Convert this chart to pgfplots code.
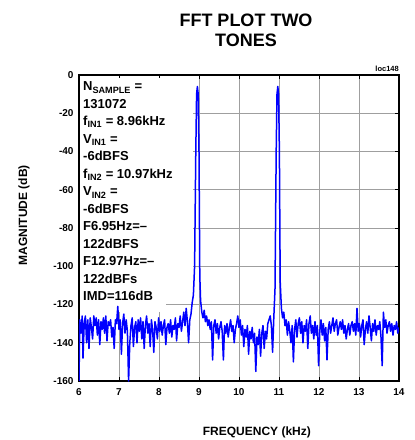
\documentclass[border=0pt]{standalone}
\usepackage{pgfplots}
\pgfplotsset{compat=1.18}
\usepackage{fontspec}
\setmainfont{Liberation Sans}
\begin{document}
\begin{tikzpicture}
\useasboundingbox (-79pt,-59pt) rectangle (336pt,381pt);
\begin{axis}[
  at={(0,0)}, anchor=south west,
  scale only axis, width=320pt, height=306pt,
  xmin=6, xmax=14, ymin=-160, ymax=0,
  xtick={6,7,...,14}, ytick={-160,-140,...,0},
  grid=major,
  grid style={gray!75, line width=0.8pt},
  axis line style={line width=1.3pt},
  tick align=inside, major tick length=4pt,
  tick style={black, line width=0.8pt},
  /pgf/number format/assume math mode=true,
  ticklabel style={font=\fontsize{10}{12}\selectfont\bfseries},
  xticklabel style={yshift=-4pt},
  yticklabel style={xshift=-2pt},
  xlabel={FREQUENCY (kHz)},
  ylabel={MAGNITUDE (dB)},
  label style={font=\fontsize{12}{14}\selectfont\bfseries},
  xlabel style={at={(axis description cs:0.556,-0.167)}, anchor=center},
  ylabel style={at={(axis description cs:-0.172,0.542)}, anchor=center, rotate=0},
  clip=true,
]
\fill[white] (axis cs:6.03,-1.5) rectangle (axis cs:8.86,-117);
\fill[white] (axis cs:6.03,-117) rectangle (axis cs:8.18,-124);
\node[anchor=north west, align=left, inner sep=0pt,
      font=\fontsize{13}{17.5}\selectfont\bfseries] at (axis cs:6.1,-3.5)
 {N\textsubscript{SAMPLE} =\\
  131072\\
  f\textsubscript{IN1} = 8.96kHz\\
  V\textsubscript{IN1} =\\
  -6dBFS\\
  f\textsubscript{IN2} = 10.97kHz\\
  V\textsubscript{IN2} =\\
  -6dBFS\\
  F6.95Hz=--\\
  122dBFS\\
  F12.97Hz=--\\
  122dBFs\\
  IMD=116dB};
\addplot[blue, line width=1.5pt, line join=round] table {
x y
6.00 -160
6.02 -128
6.05 -135
6.08 -126
6.10 -148
6.13 -130
6.16 -126
6.19 -140
6.22 -128
6.25 -143
6.28 -127
6.31 -132
6.34 -138
6.37 -126
6.40 -131
6.43 -127
6.46 -136
6.49 -128
6.52 -141
6.55 -129
6.58 -133
6.61 -127
6.64 -135
6.67 -126
6.70 -139
6.73 -129
6.76 -131
6.79 -128
6.82 -137
6.85 -132
6.88 -143
6.91 -128
6.94 -130
6.97 -121
7.00 -133
7.03 -128
7.06 -146
7.09 -130
7.12 -125
7.15 -135
7.18 -128
7.21 -134
7.24 -160
7.27 -140
7.30 -131
7.33 -127
7.36 -142
7.39 -132
7.42 -129
7.45 -140
7.48 -128
7.51 -134
7.54 -127
7.57 -138
7.60 -129
7.63 -143
7.66 -131
7.69 -126
7.72 -135
7.75 -130
7.78 -142
7.81 -128
7.84 -133
7.87 -145
7.90 -129
7.93 -132
7.96 -138
7.99 -127
8.02 -134
8.05 -129
8.08 -136
8.11 -131
8.14 -128
8.17 -141
8.20 -132
8.23 -130
8.26 -135
8.29 -128
8.32 -137
8.35 -131
8.38 -133
8.41 -127
8.44 -139
8.47 -130
8.50 -132
8.53 -126
8.56 -134
8.59 -129
8.62 -124
8.65 -131
8.68 -122
8.71 -129
8.74 -140
8.77 -128
8.80 -125
8.83 -119
8.86 -115
8.89 -100
8.92 -40
8.94 -10
8.96 -6
8.98 -10
9.00 -40
9.02 -105
9.04 -118
9.07 -124
9.10 -127
9.13 -123
9.16 -129
9.19 -126
9.22 -131
9.25 -128
9.28 -133
9.31 -129
9.34 -149
9.37 -131
9.40 -128
9.43 -135
9.46 -130
9.49 -138
9.52 -132
9.55 -129
9.58 -134
9.61 -149
9.64 -131
9.67 -135
9.70 -130
9.73 -137
9.76 -132
9.79 -128
9.82 -134
9.85 -131
9.88 -140
9.91 -133
9.94 -130
9.97 -126
10.00 -132
10.03 -128
10.06 -136
10.09 -131
10.12 -142
10.15 -133
10.18 -137
10.21 -131
10.24 -146
10.27 -134
10.30 -138
10.33 -132
10.36 -140
10.39 -135
10.42 -155
10.45 -137
10.48 -141
10.51 -133
10.54 -147
10.57 -135
10.60 -131
10.63 -143
10.66 -134
10.69 -138
10.72 -130
10.75 -128
10.78 -126
10.81 -131
10.84 -145
10.87 -127
10.90 -112
10.93 -40
10.95 -10
10.97 -6
10.99 -10
11.01 -40
11.03 -108
11.06 -122
11.09 -127
11.12 -124
11.15 -131
11.18 -128
11.21 -136
11.24 -129
11.27 -134
11.30 -140
11.33 -131
11.36 -150
11.39 -133
11.42 -128
11.45 -137
11.48 -130
11.51 -127
11.54 -135
11.57 -129
11.60 -140
11.63 -131
11.66 -134
11.69 -128
11.72 -143
11.75 -130
11.78 -126
11.81 -135
11.84 -131
11.87 -138
11.90 -129
11.93 -136
11.96 -131
11.99 -152
12.02 -134
12.05 -128
12.08 -136
12.11 -130
12.14 -139
12.17 -132
12.20 -149
12.23 -133
12.26 -129
12.29 -135
12.32 -131
12.35 -127
12.38 -134
12.41 -130
12.44 -128
12.47 -136
12.50 -132
12.53 -129
12.56 -133
12.59 -128
12.62 -135
12.65 -131
12.68 -138
12.71 -133
12.74 -130
12.77 -136
12.80 -131
12.83 -129
12.86 -134
12.89 -130
12.92 -136
12.95 -122
12.98 -134
13.01 -130
13.04 -137
13.07 -131
13.10 -128
13.13 -141
13.16 -133
13.19 -129
13.22 -135
13.25 -126
13.28 -132
13.31 -139
13.34 -130
13.37 -134
13.40 -128
13.43 -136
13.46 -131
13.49 -133
13.52 -129
13.55 -137
13.58 -152
13.61 -124
13.64 -132
13.67 -128
13.70 -135
13.73 -131
13.76 -129
13.79 -134
13.82 -130
13.85 -136
13.88 -131
13.91 -133
13.94 -129
13.97 -135
14.00 -132
};
\end{axis}
\node[font=\fontsize{18}{20}\selectfont\bfseries, align=center, anchor=center] at (167pt,351pt) {FFT PLOT TWO\\TONES};
\node[font=\fontsize{7.5}{8}\selectfont\bfseries, anchor=south east, inner sep=0pt] at (320pt,309pt) {loc148};
\end{tikzpicture}
\end{document}
